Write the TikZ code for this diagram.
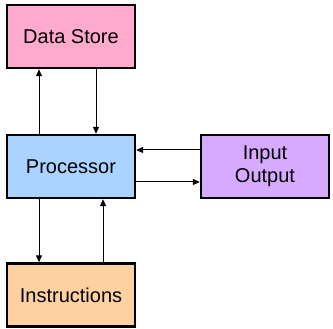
\documentclass[tikz,border=0pt]{standalone}
\usepackage{fontspec}
\setmainfont{Liberation Sans}
\usetikzlibrary{arrows.meta}
\definecolor{dspink}{RGB}{255,170,204}
\definecolor{prblue}{RGB}{170,212,255}
\definecolor{iopurple}{RGB}{214,170,255}
\definecolor{inpeach}{RGB}{255,208,160}
\begin{document}
\begin{tikzpicture}[x=1pt,y=-1pt,
  box/.style={draw=black,line width=2.4pt,minimum width=128pt,minimum height=63pt,inner sep=0pt,
    font=\fontsize{20}{23}\selectfont,align=center},
  conn/.style={line width=1pt,-{Triangle[length=7pt,width=6pt]}}]
\useasboundingbox (0,0) rectangle (333,329);
\node[box,fill=dspink] (ds) at (71,36.5) {Data Store};
\node[box,fill=prblue] (pr) at (71,166.5) {Processor};
\node[box,fill=iopurple] (io) at (265,166.5) {Input\\Output};
\node[box,fill=inpeach] (in) at (71,295) {Instructions};
\draw[conn] (pr.north -| 39,0) -- (ds.south -| 39,0);
\draw[conn] (ds.south -| 96,0) -- (pr.north -| 96,0);
\draw[conn] (pr.south -| 39,0) -- (in.north -| 39,0);
\draw[conn] (in.north -| 103,0) -- (pr.south -| 103,0);
\draw[conn] (io.west |- 0,150) -- (pr.east |- 0,150);
\draw[conn] (pr.east |- 0,182) -- (io.west |- 0,182);
\end{tikzpicture}
\end{document}
